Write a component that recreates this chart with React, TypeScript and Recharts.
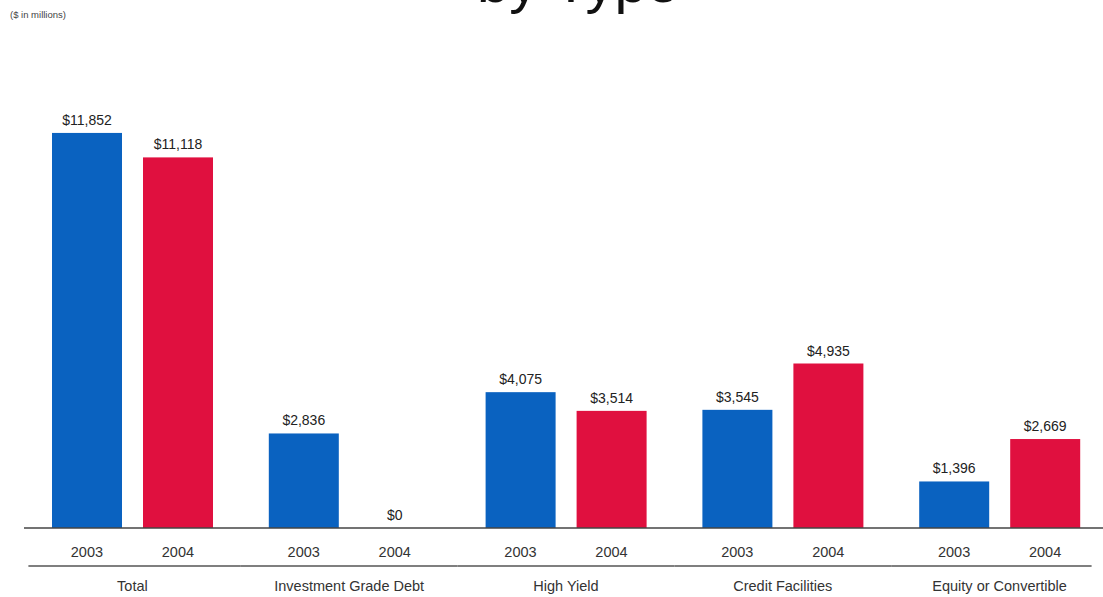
import { BarChart, Bar, XAxis, YAxis } from 'recharts';

// categories + values ($ in millions)
const categories = ['Total', 'Investment Grade Debt', 'High Yield', 'Credit Facilities', 'Equity or Convertible'];
const values2003 = [11852, 2836, 4075, 3545, 1396];
const values2004 = [11118, 0, 3514, 4935, 2669];
const yearLabels = ['2003', '2004'];

const data = categories.map((name, i) => ({ name, y2003: values2003[i], y2004: values2004[i] }));

const BLUE = '#0a62c0';
const RED = '#e0103f';
const FONT = '"Liberation Sans", Arial, sans-serif';

const formatMoney = (v: any) => '$' + Number(v).toLocaleString('en-US');

// bar + value label (so the $0 bar still gets its label)
const makeShape = (key: string, color: string) => (props: any) => {
  const { x, y, width, height, payload } = props;
  const v = payload[key];
  return (
    <g>
      {height > 0 && <rect x={x} y={y} width={width} height={height} fill={color} />}
      <text x={x + width / 2} y={y - 8} textAnchor="middle" fontSize={14} fill="#222" fontFamily={FONT}>
        {formatMoney(v)}
      </text>
    </g>
  );
};

// tick: two year labels under the bars, a rule, then the category name
const GroupTick = (props: any) => {
  const { x, y, payload, index } = props;
  const half = 108.4;
  const left = index === 0 ? x - 104 : x - half;
  const right = index === categories.length - 1 ? x + 92 : x + half;
  return (
    <g>
      <text x={x - 45.5} y={y + 21} textAnchor="middle" fontSize={14.5} fill="#333" fontFamily={FONT}>{yearLabels[0]}</text>
      <text x={x + 45.5} y={y + 21} textAnchor="middle" fontSize={14.5} fill="#333" fontFamily={FONT}>{yearLabels[1]}</text>
      <line x1={left} x2={right} y1={y + 30} y2={y + 30} stroke="#555" strokeWidth={1.5} />
      <text x={x} y={y + 55} textAnchor="middle" fontSize={14.5} fill="#333" fontFamily={FONT}>{payload.value}</text>
    </g>
  );
};

export default function App() {
  return (
    <div style={{ position: 'absolute', left: 0, top: 0, width: 1103, height: 597, overflow: 'hidden', background: '#fff' }}>
      <div style={{ position: 'absolute', left: 10, top: 9, fontSize: 9.5, color: '#444', fontFamily: FONT }}>($ in millions)</div>
      <svg width={1103} height={30} style={{ position: 'absolute', left: 0, top: 0 }}>
        <text x={578} y={2} textAnchor="middle" fontSize={58} fill="#111" fontFamily={FONT}>by Type</text>
      </svg>
      <div style={{ position: 'absolute', left: 0, top: 0 }}>
        <BarChart
          width={1110}
          height={597}
          data={data}
          margin={{ top: 128, right: 2, bottom: 0, left: 24 }}
          barSize={70}
          barGap={21}
        >
          <XAxis
            dataKey="name"
            height={69}
            tickLine={false}
            axisLine={{ stroke: '#444', strokeWidth: 1.5 }}
            tick={<GroupTick />}
            interval={0}
          />
          <YAxis hide domain={[0, 12000]} />
          <Bar dataKey="y2003" fill={BLUE} isAnimationActive={false} shape={makeShape('y2003', BLUE)} />
          <Bar dataKey="y2004" fill={RED} isAnimationActive={false} shape={makeShape('y2004', RED)} />
        </BarChart>
      </div>
    </div>
  );
}
